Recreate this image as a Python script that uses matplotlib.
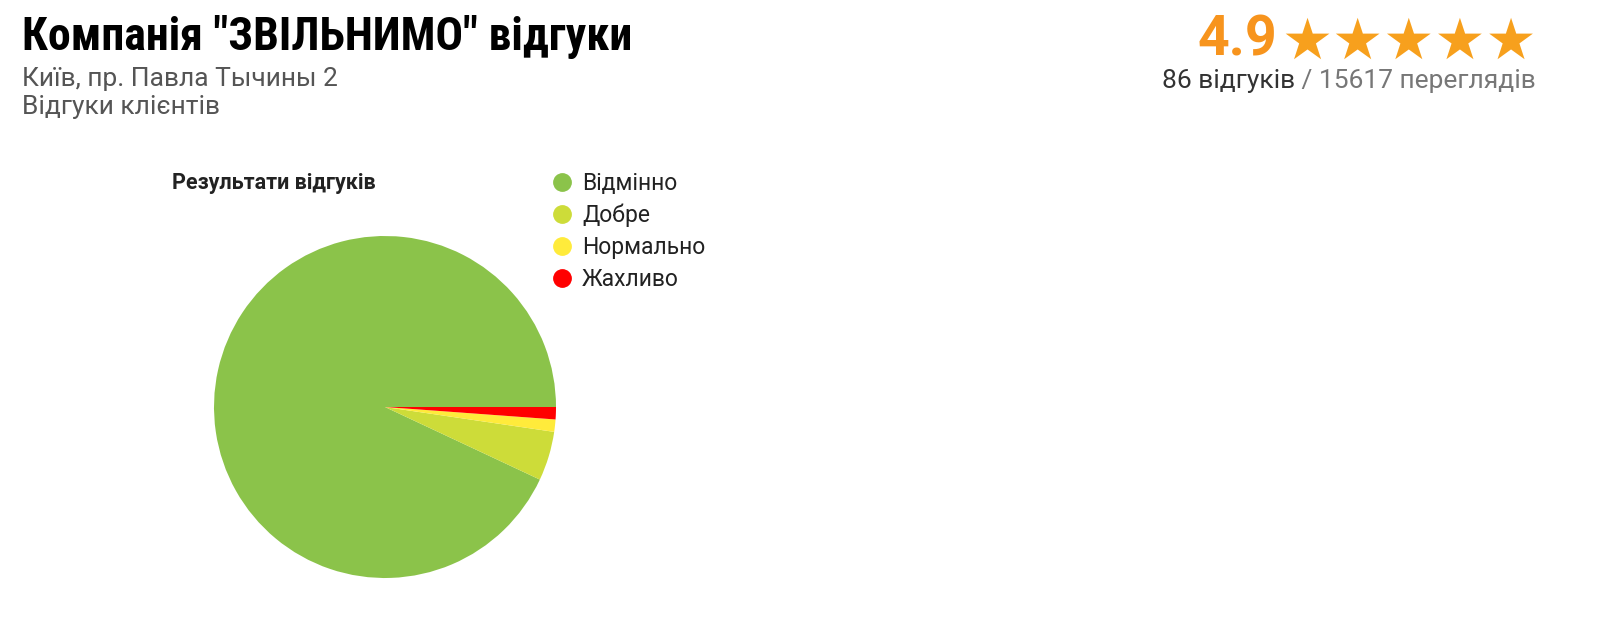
import matplotlib.pyplot as plt
from matplotlib.lines import Line2D
from matplotlib import font_manager

W, H = 1600, 644
plt.rcParams["font.family"] = ["Roboto", "DejaVu Sans"]

categories = ["Відмінно", "Добре", "Нормально", "Жахливо"]
counts = [80, 4, 1, 1]
colors = ["#8BC34A", "#CDDC39", "#FFEB3B", "#FF0000"]

title = 'Компанія "ЗВІЛЬНИМО" відгуки'
address = "Київ, пр. Павла Тычины 2"
subtitle = "Відгуки клієнтів"
rating = "4.9"
n_reviews = 86
n_views = 15617
chart_title = "Результати відгуків"

def fx(x): return x / W
def fy(y): return 1 - y / H

installed = {f.name for f in font_manager.fontManager.ttflist}
title_family = next((f for f in ["Roboto Condensed", "Liberation Sans Narrow", "Roboto"]
                     if f in installed), "DejaVu Sans")

fig = plt.figure(figsize=(W / 100, H / 100), dpi=100)
fig.canvas.draw()

# header, left (title fitted to the reference width)
t = fig.text(fx(22), fy(50), title, fontsize=33, fontweight="bold", color="#000000",
             family=[title_family, "Roboto"], va="baseline")
fig.canvas.draw()
tw = t.get_window_extent().width
t.set_fontsize(33 * min(1.0, 626 / tw))
fig.text(fx(22), fy(86), address, fontsize=19, color="#555555", va="baseline")
fig.text(fx(22), fy(114), subtitle, fontsize=19, color="#555555", va="baseline")

# header, right: rating + stars
fig.text(fx(1277), fy(56), rating, fontsize=40, fontweight="bold", color="#F7941D",
         ha="right", va="baseline")
fig.text(fx(1537), fy(59), "★" * 5, fontsize=41, color="#F7A01D", ha="right", va="baseline",
         family=["DejaVu Sans"])
views = fig.text(fx(1536), fy(88), f" / {n_views} переглядів", fontsize=19, color="#777777",
                 ha="right", va="baseline")
fig.canvas.draw()
bb = views.get_window_extent()
fig.text(bb.x0 / W, fy(88), f"{n_reviews} відгуків", fontsize=19, color="#333333",
         ha="right", va="baseline")

# pie
cx, cy, r = 385, 407, 171
ax = fig.add_axes([fx(cx - r), fy(cy + r), 2 * r / W, 2 * r / H])
ax.pie(counts, colors=colors, startangle=0, counterclock=True, radius=1,
       wedgeprops=dict(linewidth=0))
ax.set_xlim(-1, 1); ax.set_ylim(-1, 1)
ax.set_aspect("equal"); ax.axis("off")

fig.text(fx(172), fy(189), chart_title, fontsize=15.5, fontweight="bold", color="#222222",
         va="baseline")

handles = [Line2D([], [], marker="o", linestyle="none", markersize=12.5,
                  markerfacecolor=c, markeredgecolor=c) for c in colors]
fig.legend(handles, categories, loc="upper left", bbox_to_anchor=(fx(551), fy(172)),
           frameon=False, fontsize=16.5, handlelength=1.0, handletextpad=0.35,
           labelspacing=0.38, borderaxespad=0, borderpad=0, labelcolor="#222222")

fig.savefig("out.png", dpi=100, facecolor="white")
